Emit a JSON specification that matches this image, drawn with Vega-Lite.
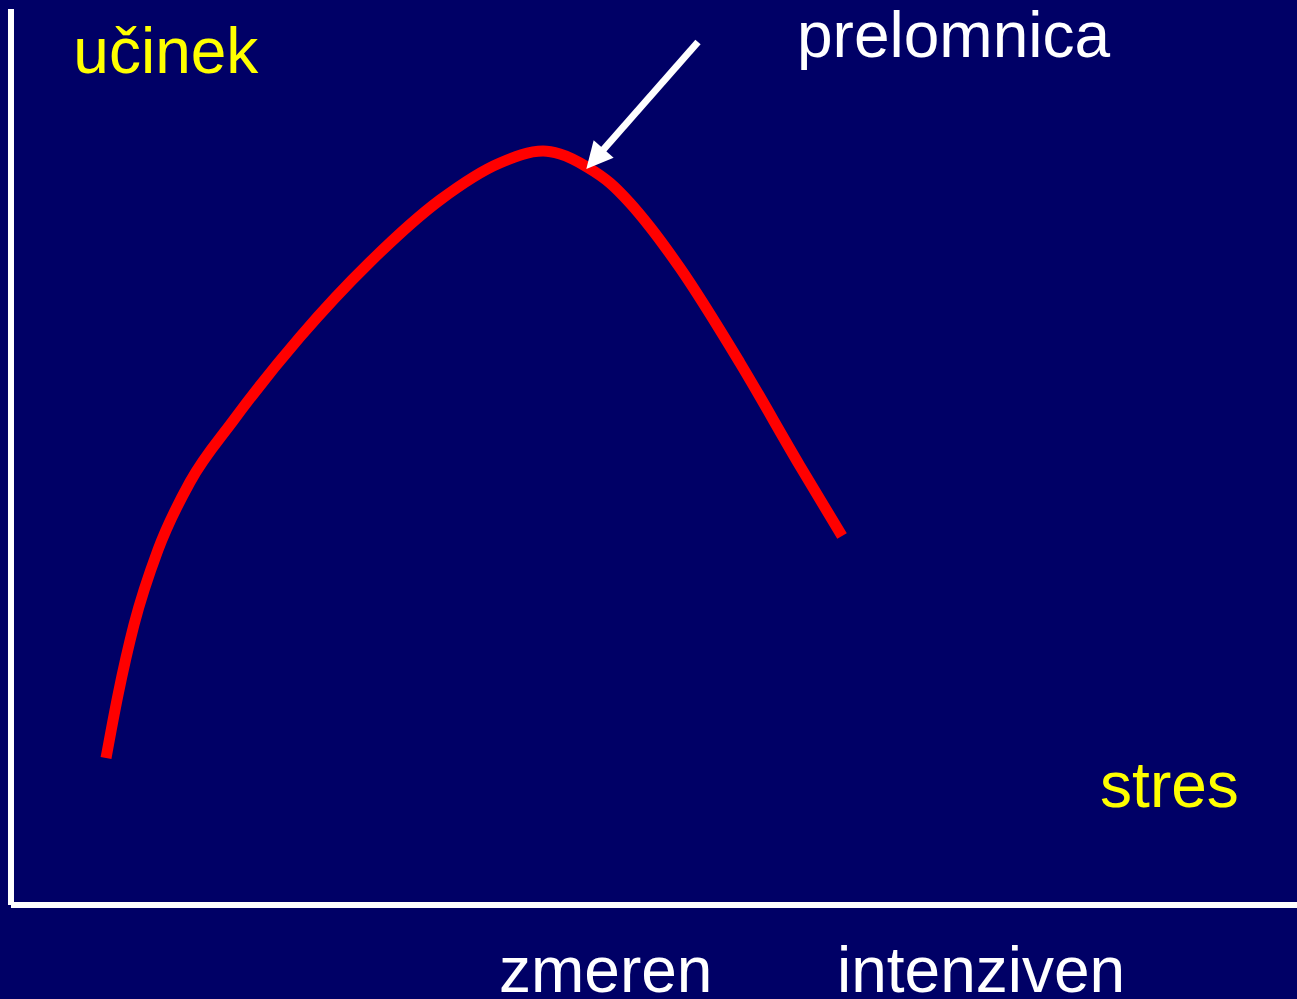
{
  "$schema": "https://vega.github.io/schema/vega-lite/v6.json",
  "width": 1297,
  "height": 999,
  "padding": 0,
  "autosize": {"type": "none"},
  "background": "#000066",
  "config": {"view": {"stroke": null, "fill": "#000066"}},
  "datasets": {
    "curve": [
      {"stres": 7.39, "ucinek": 16.24},
      {"stres": 8.32, "ucinek": 23.2},
      {"stres": 9.56, "ucinek": 30.94},
      {"stres": 11.43, "ucinek": 39.23},
      {"stres": 13.92, "ucinek": 46.74},
      {"stres": 17.26, "ucinek": 53.48},
      {"stres": 22.47, "ucinek": 62.76},
      {"stres": 27.92, "ucinek": 71.05},
      {"stres": 33.36, "ucinek": 77.9},
      {"stres": 38.02, "ucinek": 81.99},
      {"stres": 41.37, "ucinek": 83.31},
      {"stres": 42.69, "ucinek": 82.98},
      {"stres": 44.79, "ucinek": 81.55},
      {"stres": 46.58, "ucinek": 79.78},
      {"stres": 48.13, "ucinek": 77.57},
      {"stres": 49.69, "ucinek": 74.92},
      {"stres": 52.02, "ucinek": 70.39},
      {"stres": 56.69, "ucinek": 59.89},
      {"stres": 61.35, "ucinek": 48.51},
      {"stres": 64.62, "ucinek": 40.77}
    ],
    "axes": [
      {"x": 0, "y": 0, "x2": 0, "y2": 99.0},
      {"x": 0, "y": 0, "x2": 100, "y2": 0}
    ],
    "arrow": [
      {"x": 53.42, "y": 95.36, "x2": 45.49, "y2": 82.54}
    ],
    "arrowhead": [
      {"x": 45.41, "y": 82.43}
    ],
    "labels": [
      {"x": 4.85, "y": 91.93, "text": "učinek", "kind": "axis"},
      {"x": 84.69, "y": 10.83, "text": "stres", "kind": "axis"},
      {"x": 61.12, "y": 93.7, "text": "prelomnica", "kind": "note"},
      {"x": 37.95, "y": -9.61, "text": "zmeren", "kind": "note"},
      {"x": 64.23, "y": -9.61, "text": "intenziven", "kind": "note"}
    ]
  },
  "layer": [
    {
      "data": {"name": "axes"},
      "mark": {"type": "rule", "color": "#ffffff", "strokeWidth": 6, "strokeCap": "butt"},
      "encoding": {
        "x": {"field": "x", "type": "quantitative", "axis": null, "scale": {"domain": [-0.855, 100], "nice": false, "zero": false}},
        "y": {"field": "y", "type": "quantitative", "axis": null, "scale": {"domain": [-10.39, 100], "nice": false, "zero": false}},
        "x2": {"field": "x2"},
        "y2": {"field": "y2"}
      }
    },
    {
      "data": {"name": "curve"},
      "mark": {"type": "line", "color": "#ff0000", "strokeWidth": 11, "strokeCap": "butt", "strokeJoin": "round", "interpolate": "monotone"},
      "encoding": {
        "x": {"field": "stres", "type": "quantitative", "axis": null, "scale": {"domain": [-0.855, 100], "nice": false, "zero": false}},
        "y": {"field": "ucinek", "type": "quantitative", "axis": null, "scale": {"domain": [-10.39, 100], "nice": false, "zero": false}}
      }
    },
    {
      "data": {"name": "arrow"},
      "mark": {"type": "rule", "color": "#ffffff", "strokeWidth": 7, "strokeCap": "butt"},
      "encoding": {
        "x": {"field": "x", "type": "quantitative", "axis": null, "scale": {"domain": [-0.855, 100], "nice": false, "zero": false}},
        "y": {"field": "y", "type": "quantitative", "axis": null, "scale": {"domain": [-10.39, 100], "nice": false, "zero": false}},
        "x2": {"field": "x2"},
        "y2": {"field": "y2"}
      }
    },
    {
      "data": {"name": "arrowhead"},
      "mark": {"type": "point", "shape": "M0,-1L-1,1L1,1Z", "size": 700, "angle": 221, "filled": true, "fill": "#ffffff", "strokeWidth": 0, "opacity": 1},
      "encoding": {
        "x": {"field": "x", "type": "quantitative", "axis": null, "scale": {"domain": [-0.855, 100], "nice": false, "zero": false}},
        "y": {"field": "y", "type": "quantitative", "axis": null, "scale": {"domain": [-10.39, 100], "nice": false, "zero": false}}
      }
    },
    {
      "data": {"name": "labels"},
      "mark": {"type": "text", "align": "left", "baseline": "alphabetic", "font": "Liberation Sans", "fontSize": 64},
      "encoding": {
        "x": {"field": "x", "type": "quantitative", "axis": null, "scale": {"domain": [-0.855, 100], "nice": false, "zero": false}},
        "y": {"field": "y", "type": "quantitative", "axis": null, "scale": {"domain": [-10.39, 100], "nice": false, "zero": false}},
        "text": {"field": "text"},
        "color": {"field": "kind", "type": "nominal", "legend": null, "scale": {"domain": ["axis", "note"], "range": ["#ffff00", "#ffffff"]}}
      }
    }
  ]
}
